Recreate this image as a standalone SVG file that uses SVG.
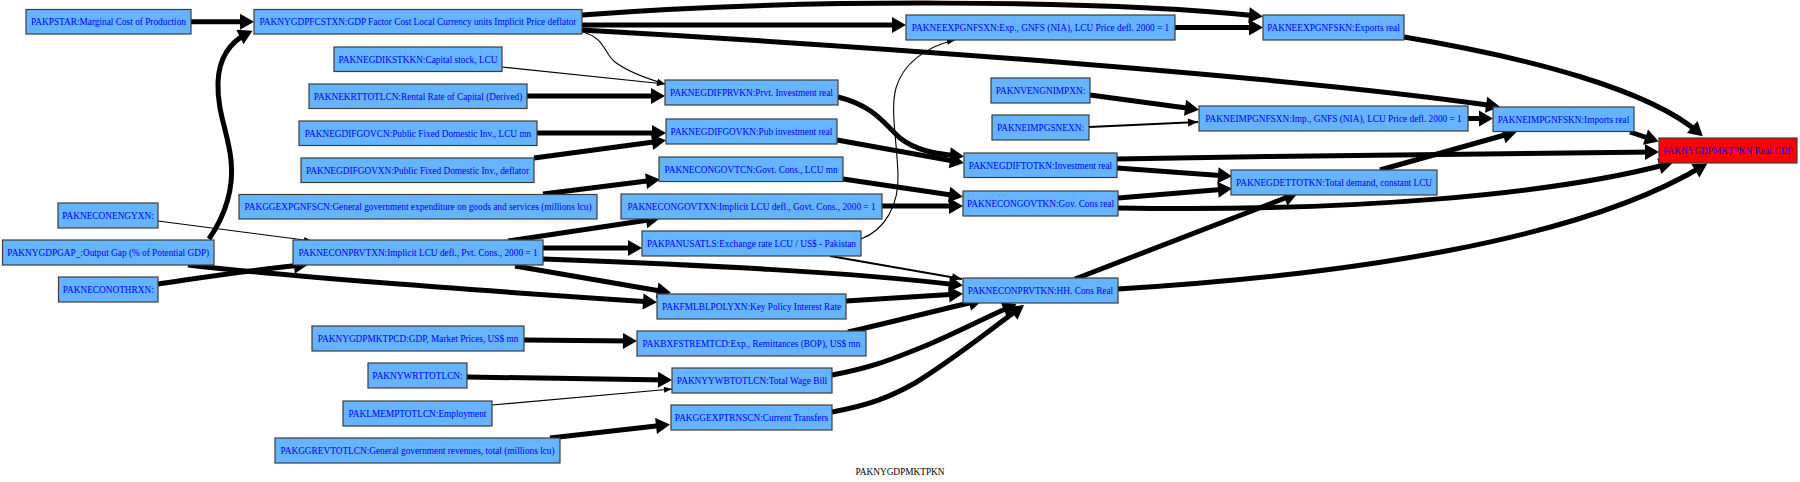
<svg xmlns="http://www.w3.org/2000/svg" width="1800" height="482" viewBox="0 0 1800 482">
<style>
.n rect{fill:#66b3ff;stroke:#3c3c3c;stroke-width:1.2}
.n.red rect{fill:#ff0000}
.n text{font-family:"Liberation Serif","Times New Roman",serif;font-size:9.3px;fill:#0000ff;text-anchor:middle}
.e path{fill:none;stroke:#000}
.t{stroke-width:5;marker-end:url(#aT)}
.m{stroke-width:2;marker-end:url(#aM)}
.s{stroke-width:1.1;marker-end:url(#aS)}
.title{font-family:"Liberation Serif","Times New Roman",serif;font-size:9.3px;fill:#000;text-anchor:middle}
</style>
<defs>
<marker id="aT" markerUnits="userSpaceOnUse" markerWidth="16" markerHeight="18" refX="9" refY="8" orient="auto" overflow="visible"><path d="M0,0 L14,8 L0,16 z" fill="#000"/></marker>
<marker id="aM" markerUnits="userSpaceOnUse" markerWidth="12" markerHeight="10" refX="10" refY="4" orient="auto" overflow="visible"><path d="M0,0 L10,4 L0,8 z" fill="#000"/></marker>
<marker id="aS" markerUnits="userSpaceOnUse" markerWidth="10" markerHeight="8" refX="8" refY="3" orient="auto" overflow="visible"><path d="M0,0 L8,3 L0,6 z" fill="#000"/></marker>
</defs>
<rect width="1800" height="482" fill="#fff"/>
<g id="edges" class="e">
<path class="t" d="M191,21.75 L249,21.75"/>
<path class="t" d="M209,239 C226,214 234,188 231,160 C228,132 217,112 218,82 C219,58 230,42 248,33"/>
<path class="t" d="M582,15 C800,-2 1100,0 1258,16"/>
<path class="t" d="M582,25 L901,25"/>
<path class="t" d="M582,30 C900,48 1300,78 1495,106"/>
<path class="s" d="M583,32 C605,38 605,55 615,62 C628,72 645,78 665,84"/>
<path class="s" d="M502,67 L665,84"/>
<path class="t" d="M527,96 L660,96"/>
<path class="t" d="M537,133 L661,133"/>
<path class="t" d="M534,158 L661,141"/>
<path class="t" d="M838,97 C875,106 885,125 900,138 C915,150 935,154 959,156"/>
<path class="t" d="M837,140 L959,162"/>
<path class="t" d="M843,179 L958,196"/>
<path class="t" d="M882,206 L958,206"/>
<path class="s" d="M861,239 C885,230 899,205 898,175 C897,140 890,110 896,88 C903,64 925,47 955,40"/>
<path class="m" d="M830,256 L962,279"/>
<path class="t" d="M543,259 C700,265 850,272 958,285"/>
<path class="t" d="M846,301 L958,294"/>
<path class="t" d="M848,332 C880,325 930,312 978,301"/>
<path class="t" d="M832,375 C870,368 890,360 920,348 C950,336 980,320 1012,306"/>
<path class="t" d="M832,412 C870,405 890,397 915,383 C950,362 990,330 1020,308"/>
<path class="t" d="M188,265 C300,278 500,292 652,302"/>
<path class="t" d="M515,266 L666,292"/>
<path class="t" d="M508,241 L655,219"/>
<path class="t" d="M543,248 L637,248"/>
<path class="t" d="M543,194 L655,180"/>
<path class="s" d="M158,221 L312,241"/>
<path class="t" d="M158,284 C200,278 250,270 303,265"/>
<path class="t" d="M524,340 L632,341"/>
<path class="t" d="M467,377 L667,380"/>
<path class="s" d="M492,405 L672,389"/>
<path class="t" d="M550,438 L665,425"/>
<path class="t" d="M1175,27.5 L1258,27.5"/>
<path class="t" d="M1090,95 L1194,109"/>
<path class="m" d="M1089,127 L1198,122"/>
<path class="t" d="M1468,118.5 L1488,118.5"/>
<path class="t" d="M1404,37 C1530,58 1650,90 1699,133"/>
<path class="t" d="M1630,132 L1654,140"/>
<path class="t" d="M1117,159 C1300,156 1500,153 1654,152"/>
<path class="t" d="M1117,168 L1227,176"/>
<path class="t" d="M1118,198 L1227,189"/>
<path class="t" d="M1118,208 C1350,212 1550,195 1668,164"/>
<path class="t" d="M1075,279 L1293,195"/>
<path class="t" d="M1118,289 C1350,275 1580,240 1703,166"/>
<path class="t" d="M1380,170 L1512,133"/>
</g>
<g id="n1" class="n"><rect x="26" y="9.5" width="165" height="24.5"/><text x="108.5" y="25">PAKPSTAR:Marginal Cost of Production</text></g>
<g id="n2" class="n"><rect x="254" y="9.5" width="328" height="24.5"/><text x="418" y="25">PAKNYGDPFCSTXN:GDP Factor Cost Local Currency units Implicit Price deflator</text></g>
<g id="n3" class="n"><rect x="334" y="47" width="168" height="24.5"/><text x="418" y="62.5">PAKNEGDIKSTKKN:Capital stock, LCU</text></g>
<g id="n4" class="n"><rect x="309" y="84" width="218" height="24.5"/><text x="418" y="99.5">PAKNEKRTTOTLCN:Rental Rate of Capital (Derived)</text></g>
<g id="n5" class="n"><rect x="299" y="121" width="238" height="24.5"/><text x="418" y="136.5">PAKNEGDIFGOVCN:Public Fixed Domestic Inv., LCU mn</text></g>
<g id="n6" class="n"><rect x="301" y="158" width="233" height="24.5"/><text x="417.5" y="173.5">PAKNEGDIFGOVXN:Public Fixed Domestic Inv., deflator</text></g>
<g id="n7" class="n"><rect x="239" y="194.5" width="358" height="24.5"/><text x="418" y="210">PAKGGEXPGNFSCN:General government expenditure on goods and services (millions lcu)</text></g>
<g id="n8" class="n"><rect x="58" y="203" width="100" height="25"/><text x="108" y="218.8">PAKNECONENGYXN:</text></g>
<g id="n9" class="n"><rect x="2.5" y="240" width="211.5" height="25"/><text x="108.25" y="255.8">PAKNYGDPGAP_:Output Gap (% of Potential GDP)</text></g>
<g id="n10" class="n"><rect x="58.5" y="277" width="99.5" height="25"/><text x="108.25" y="292.8">PAKNECONOTHRXN:</text></g>
<g id="n11" class="n"><rect x="293" y="240" width="250" height="25"/><text x="418" y="255.8">PAKNECONPRVTXN:Implicit LCU defl., Pvt. Cons., 2000 = 1</text></g>
<g id="n12" class="n"><rect x="312" y="326" width="212" height="25"/><text x="418" y="341.8">PAKNYGDPMKTPCD:GDP, Market Prices, US$ mn</text></g>
<g id="n13" class="n"><rect x="368" y="363" width="99" height="25"/><text x="417.5" y="378.8">PAKNYWRTTOTLCN:</text></g>
<g id="n14" class="n"><rect x="343" y="401" width="149" height="25"/><text x="417.5" y="416.8">PAKLMEMPTOTLCN:Employment</text></g>
<g id="n15" class="n"><rect x="275" y="438" width="285" height="25"/><text x="417.5" y="453.8">PAKGGREVTOTLCN:General government revenues, total (millions lcu)</text></g>
<g id="n16" class="n"><rect x="665" y="80" width="173" height="25"/><text x="751.5" y="95.8">PAKNEGDIFPRVKN:Prvt. Investment real</text></g>
<g id="n17" class="n"><rect x="666" y="119" width="171" height="25"/><text x="751.5" y="134.8">PAKNEGDIFGOVKN:Pub investment real</text></g>
<g id="n18" class="n"><rect x="659" y="157" width="184" height="24.5"/><text x="751" y="172.5">PAKNECONGOVTCN:Govt. Cons., LCU mn</text></g>
<g id="n19" class="n"><rect x="621" y="194" width="261" height="25"/><text x="751.5" y="209.8">PAKNECONGOVTXN:Implicit LCU defl., Govt. Cons., 2000 = 1</text></g>
<g id="n20" class="n"><rect x="642" y="231" width="219" height="25"/><text x="751.5" y="246.8">PAKPANUSATLS:Exchange rate LCU / US$ - Pakistan</text></g>
<g id="n21" class="n"><rect x="657" y="294" width="189" height="25"/><text x="751.5" y="309.8">PAKFMLBLPOLYXN:Key Policy Interest Rate</text></g>
<g id="n22" class="n"><rect x="637" y="331" width="229" height="25"/><text x="751.5" y="346.8">PAKBXFSTREMTCD:Exp., Remittances (BOP), US$ mn</text></g>
<g id="n23" class="n"><rect x="672" y="368" width="160" height="25"/><text x="752" y="383.8">PAKNYYWBTOTLCN:Total Wage Bill</text></g>
<g id="n24" class="n"><rect x="671" y="405" width="161" height="25"/><text x="751.5" y="420.8">PAKGGEXPTRNSCN:Current Transfers</text></g>
<g id="n25" class="n"><rect x="906" y="15" width="269" height="25"/><text x="1040.5" y="30.8">PAKNEEXPGNFSXN:Exp., GNFS (NIA), LCU Price defl. 2000 = 1</text></g>
<g id="n26" class="n"><rect x="1263" y="15" width="141" height="25"/><text x="1333.5" y="30.8">PAKNEEXPGNFSKN:Exports real</text></g>
<g id="n27" class="n"><rect x="991" y="78" width="99" height="25"/><text x="1040.5" y="93.8">PAKNVENGNIMPXN:</text></g>
<g id="n28" class="n"><rect x="992" y="115" width="97" height="25"/><text x="1040.5" y="130.8">PAKNEIMPGSNEXN:</text></g>
<g id="n29" class="n"><rect x="1199" y="106" width="269" height="25"/><text x="1333.5" y="121.8">PAKNEIMPGNFSXN:Imp., GNFS (NIA), LCU Price defl. 2000 = 1</text></g>
<g id="n30" class="n"><rect x="1493" y="107" width="141" height="24.5"/><text x="1563.5" y="122.5">PAKNEIMPGNFSKN:Imports real</text></g>
<g id="n31" class="n red"><rect x="1659" y="138" width="138" height="25"/><text x="1728" y="153.8">PAKNYGDPMKTPKN:Real GDP</text></g>
<g id="n32" class="n"><rect x="964" y="153" width="153" height="24.5"/><text x="1040.5" y="168.5">PAKNEGDIFTOTKN:Investment real</text></g>
<g id="n33" class="n"><rect x="963" y="191" width="155" height="25"/><text x="1040.5" y="206.8">PAKNECONGOVTKN:Gov. Cons real</text></g>
<g id="n34" class="n"><rect x="1231" y="170" width="206" height="25"/><text x="1334" y="185.8">PAKNEGDETTOTKN:Total demand, constant LCU</text></g>
<g id="n35" class="n"><rect x="963" y="278" width="155" height="25"/><text x="1040.5" y="293.8">PAKNECONPRVTKN:HH. Cons Real</text></g>
<text class="title" x="900" y="475">PAKNYGDPMKTPKN</text>
</svg>
